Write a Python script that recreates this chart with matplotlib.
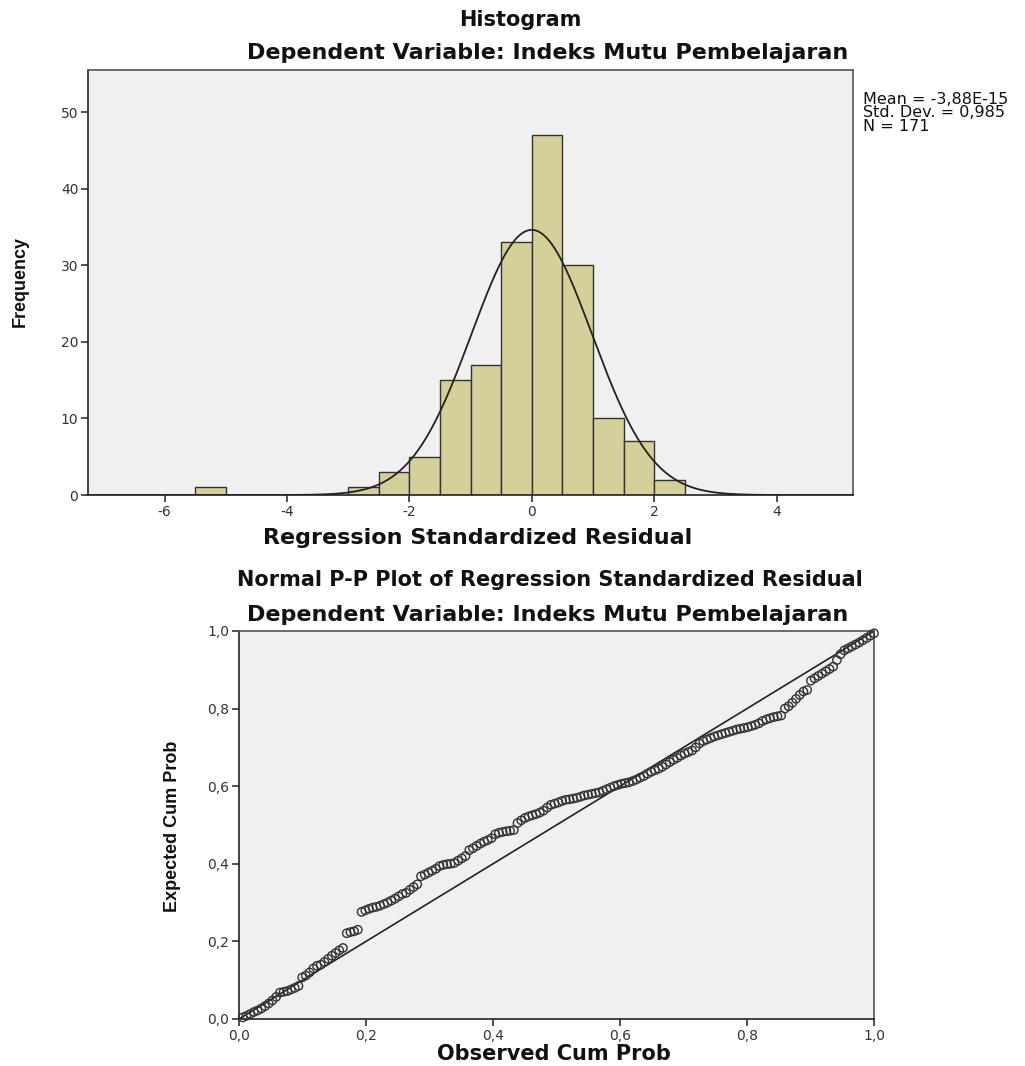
import numpy as np
import matplotlib.pyplot as plt
from matplotlib.ticker import FuncFormatter

# histogram bins (width 0.5) and counts
bin_left = [-5.5, -3.0, -2.5, -2.0, -1.5, -1.0, -0.5, 0.0, 0.5, 1.0, 1.5, 2.0]
counts = [1, 1, 3, 5, 15, 17, 33, 47, 30, 10, 7, 2]
bin_w = 0.5
mean = -3.88e-15
std = 0.985
n = 171

# P-P plot: expected cum prob for each ranked residual
expected = [
    .004, .008, .013, .018, .022, .027, .033, .040, .048, .057,
    .068, .070, .072, .076, .080, .085, .107, .112, .120, .130,
    .137, .140, .147, .155, .163, .170, .177, .183, .221, .224,
    .226, .230, .276, .280, .284, .287, .289, .292, .296, .300,
    .305, .310, .316, .322, .325, .333, .340, .347, .368, .372,
    .377, .382, .387, .394, .397, .399, .400, .402, .408, .414,
    .420, .435, .440, .446, .452, .457, .461, .466, .476, .480,
    .482, .484, .485, .487, .505, .512, .518, .522, .525, .528,
    .532, .537, .545, .552, .555, .558, .562, .565, .566, .568,
    .570, .573, .576, .578, .580, .582, .584, .588, .592, .596,
    .600, .603, .606, .608, .610, .613, .617, .622, .626, .632,
    .637, .641, .645, .650, .656, .662, .668, .673, .679, .684,
    .688, .692, .700, .710, .716, .720, .724, .728, .731, .734,
    .737, .740, .743, .746, .748, .750, .752, .755, .758, .762,
    .768, .772, .775, .778, .780, .782, .800, .806, .815, .825,
    .835, .844, .848, .872, .878, .884, .890, .896, .902, .908,
    .925, .940, .950, .955, .960, .965, .970, .976, .982, .988,
    .994,
]
observed = np.arange(1, len(expected) + 1) / len(expected)

wide = ['DejaVu Sans']
narrow = ['Liberation Sans Narrow', 'Liberation Sans', 'DejaVu Sans']
plt.rcParams['font.family'] = wide
plt.rcParams['axes.unicode_minus'] = False

fig = plt.figure(figsize=(10.25, 10.66), dpi=100)
bg = '#f0f0f0'
frame = '#555555'
ink = '#111111'

def comma(v, pos):
    return ('%.1f' % v).replace('.', ',')

def style(a):
    a.set_facecolor(bg)
    a.tick_params(labelsize=10, colors='#333333', length=5, width=1.2, pad=2)
    for s in a.spines.values():
        s.set_color(frame)
        s.set_linewidth(1.2)
    a.spines['left'].set_color('#222222')
    a.spines['bottom'].set_color('#222222')

# ---------------- histogram
ax = fig.add_axes([0.0859, 0.5356, 0.7463, 0.3987])
ax.bar(bin_left, counts, width=bin_w, align='edge', color='#d5cf9a',
       edgecolor='#333333', linewidth=1.0, zorder=2)
xs = np.linspace(-7.25, 5.25, 600)
curve = n * bin_w * np.exp(-0.5 * ((xs - mean) / std) ** 2) / (std * np.sqrt(2 * np.pi))
ax.plot(xs, curve, color='#222222', lw=1.3, zorder=3)
ax.set_xlim(-7.25, 5.25)
ax.set_ylim(0, 55.5)
ax.set_xticks([-6, -4, -2, 0, 2, 4])
ax.set_yticks([0, 10, 20, 30, 40, 50])
style(ax)

fig.text(0.508, 0.981, 'Histogram', ha='center', va='center',
         fontsize=15, fontweight='bold', color=ink)
fig.text(0.534, 0.950, 'Dependent Variable: Indeks Mutu Pembelajaran',
         ha='center', va='center', fontsize=16, fontweight='bold', color=ink)
fig.text(0.466, 0.495, 'Regression Standardized Residual', ha='center',
         va='center', fontsize=16, fontweight='bold', color=ink)
fig.text(0.020, 0.7355, 'Frequency', rotation=90, ha='center', va='center',
         fontsize=13, fontweight='bold', family=narrow, color=ink)
fig.text(0.842, 0.894, 'Mean = -3,88E-15\nStd. Dev. = 0,985\nN = 171',
         ha='left', va='center', fontsize=11.5, linespacing=0.9, color=ink)

# ---------------- P-P plot
ax2 = fig.add_axes([0.2332, 0.0441, 0.6195, 0.3640])
ax2.plot([0, 1], [0, 1], color='#222222', lw=1.2, zorder=2)
ax2.scatter(observed, expected, s=36, facecolors='none', edgecolors='#333333',
            linewidths=1.0, zorder=3, clip_on=False)
ax2.set_xlim(0, 1)
ax2.set_ylim(0, 1)
ax2.set_xticks(np.arange(0, 1.01, 0.2))
ax2.set_yticks(np.arange(0, 1.01, 0.2))
ax2.xaxis.set_major_formatter(FuncFormatter(comma))
ax2.yaxis.set_major_formatter(FuncFormatter(comma))
style(ax2)

fig.text(0.536, 0.456, 'Normal P-P Plot of Regression Standardized Residual',
         ha='center', va='center', fontsize=15, fontweight='bold', color=ink)
fig.text(0.534, 0.423, 'Dependent Variable: Indeks Mutu Pembelajaran',
         ha='center', va='center', fontsize=16, fontweight='bold', color=ink)
fig.text(0.540, 0.011, 'Observed Cum Prob', ha='center', va='center',
         fontsize=15, fontweight='bold', color=ink)
fig.text(0.168, 0.225, 'Expected Cum Prob', rotation=90, ha='center',
         va='center', fontsize=13, fontweight='bold', family=narrow, color=ink)

fig.savefig('out.png', dpi=100)
